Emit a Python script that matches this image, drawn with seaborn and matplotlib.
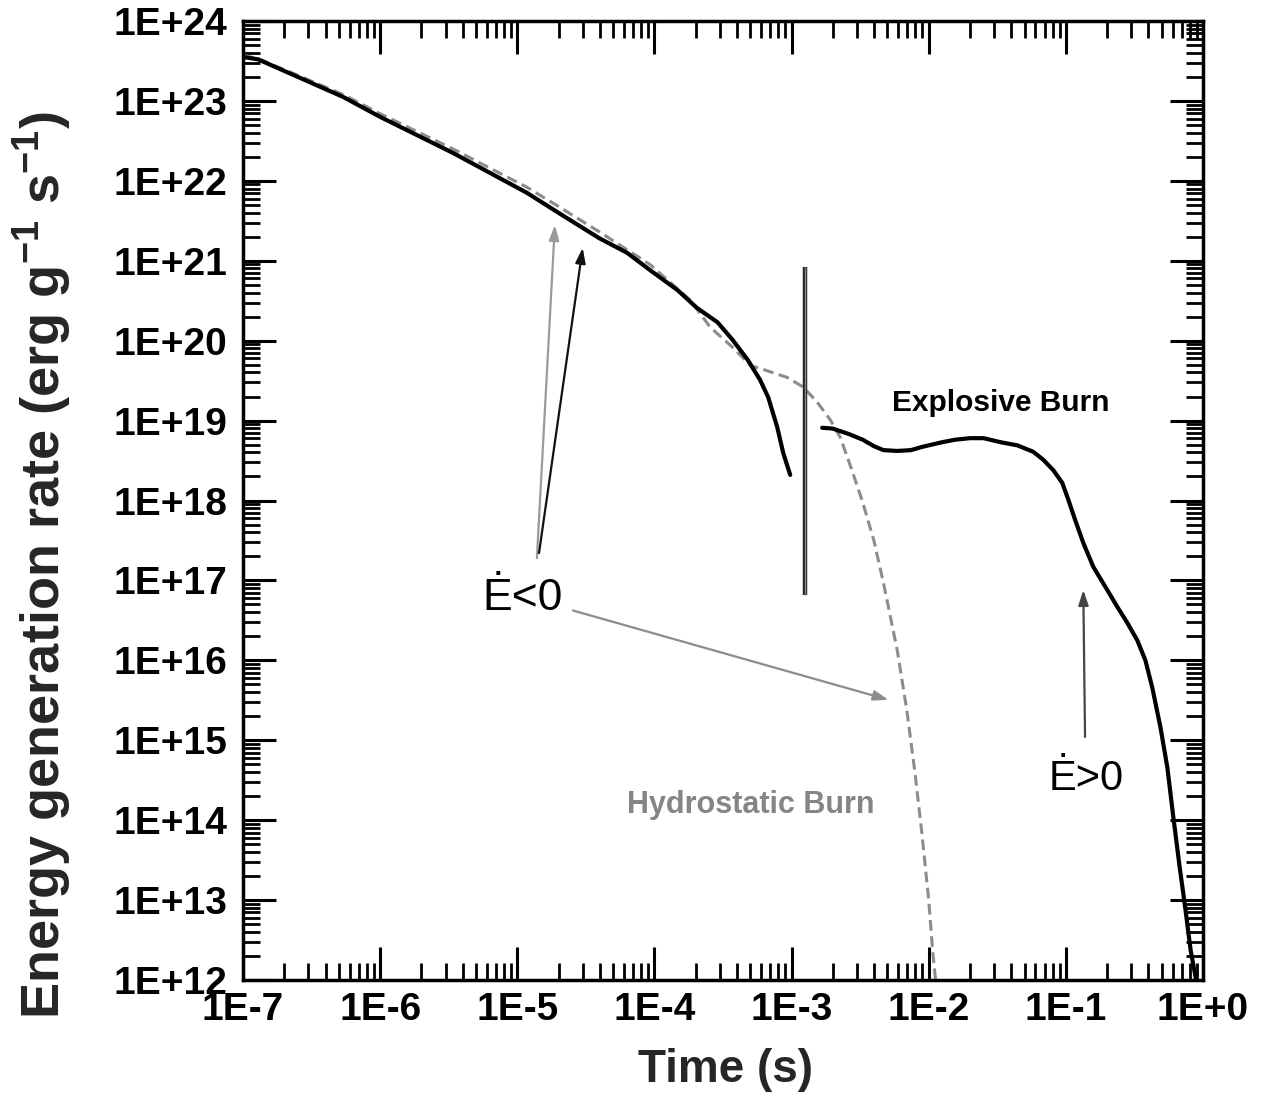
import numpy as np
import pandas as pd
import matplotlib
matplotlib.use("Agg")
import matplotlib.pyplot as plt
import matplotlib.ticker as mticker
import seaborn as sns

# values as log10 exponents
# explosive burn, part before the vertical bar: log10 t (s), log10 rate (erg/g/s)
expl1_logt = [-7.0, -6.89, -6.6, -6.27, -6.0, -5.47, -4.93, -4.70, -4.40, -4.20,
              -4.03, -3.83, -3.69, -3.54, -3.43, -3.32, -3.23, -3.17, -3.105,
              -3.06, -3.01]
expl1_logE = [23.55, 23.52, 23.30, 23.05, 22.80, 22.35, 21.85, 21.60, 21.28, 21.10,
              20.88, 20.63, 20.41, 20.23, 20.01, 19.76, 19.51, 19.29, 18.92,
              18.59, 18.32]

# explosive burn, part after the vertical bar
expl2_logt = [-2.777, -2.70, -2.58, -2.48, -2.40, -2.33, -2.23, -2.13, -2.05,
              -2.0, -1.90, -1.81, -1.70, -1.60, -1.478, -1.354, -1.238, -1.165,
              -1.092, -1.026, -0.982, -0.931, -0.873, -0.80, -0.698, -0.625,
              -0.552, -0.479, -0.42, -0.37, -0.31, -0.26, -0.22, -0.17, -0.13,
              -0.09, -0.05]
expl2_logE = [18.91, 18.90, 18.83, 18.76, 18.68, 18.63, 18.62, 18.63, 18.67,
              18.69, 18.73, 18.76, 18.78, 18.78, 18.73, 18.69, 18.61, 18.51,
              18.38, 18.22, 18.01, 17.75, 17.47, 17.17, 16.88, 16.67,
              16.47, 16.25, 16.00, 15.66, 15.16, 14.66, 14.09, 13.41, 12.91,
              12.37, 12.00]

# hydrostatic burn
hydro_logt = [-7.0, -6.89, -6.6, -6.27, -6.0, -5.47, -4.93, -4.70, -4.40, -4.03,
              -3.885, -3.74, -3.594, -3.426, -3.30, -3.207, -3.032, -2.915,
              -2.813, -2.718, -2.645, -2.56, -2.48, -2.40, -2.33, -2.23, -2.16,
              -2.10, -2.05, -2.00, -1.97, -1.95]
hydro_logE = [23.57, 23.53, 23.32, 23.08, 22.84, 22.40, 21.92, 21.68, 21.36, 20.95,
              20.73, 20.51, 20.17, 19.91, 19.69, 19.64, 19.54, 19.42,
              19.23, 19.01, 18.79, 18.38, 17.97, 17.50, 16.97, 16.13, 15.38,
              14.59, 13.84, 13.00, 12.34, 12.00]

# vertical bar separating the two explosive segments
bar_t = 1.26e-3
bar_lo, bar_hi = 6.6e16, 8.3e20

xticks = [1e-7, 1e-6, 1e-5, 1e-4, 1e-3, 1e-2, 1e-1, 1e0]
yticks = [10.0 ** k for k in range(12, 25)]

# annotation arrows: (tail), (head), colour
arrows = [
    ((1.39e-5, 1.9e17), (1.88e-5, 2.8e21), "#9a9a9a"),
    ((1.44e-5, 2.2e17), (3.0e-5, 1.45e21), "#111111"),
    ((2.55e-5, 4.2e16), (5.1e-3, 3.2e15), "#8c8c8c"),
    ((0.138, 1.1e15), (0.134, 7.6e16), "#444444"),
]

sns.set_style("ticks")
plt.rcParams["font.family"] = ["Liberation Sans", "DejaVu Sans"]
plt.rcParams["mathtext.fontset"] = "custom"
plt.rcParams["mathtext.rm"] = "Liberation Sans"
plt.rcParams["mathtext.bf"] = "Liberation Sans:bold"

fig = plt.figure(figsize=(12.63, 10.94), dpi=100)
ax = fig.add_axes([243 / 1263, 1 - 980 / 1094, 960 / 1263, 959 / 1094])
ax.set(xscale="log", yscale="log")

df_h = pd.DataFrame({"t": 10.0 ** np.array(hydro_logt), "E": 10.0 ** np.array(hydro_logE)})
sns.lineplot(data=df_h, x="t", y="E", ax=ax, color="#8c8c8c", lw=2.2,
             linestyle=(0, (3.5, 1.8)), estimator=None)
df1 = pd.DataFrame({"t": 10.0 ** np.array(expl1_logt), "E": 10.0 ** np.array(expl1_logE)})
sns.lineplot(data=df1, x="t", y="E", ax=ax, color="black", lw=3.0, estimator=None,
             solid_joinstyle="round")
df2 = pd.DataFrame({"t": 10.0 ** np.array(expl2_logt), "E": 10.0 ** np.array(expl2_logE)})
sns.lineplot(data=df2, x="t", y="E", ax=ax, color="black", lw=3.0, estimator=None,
             solid_joinstyle="round")

ax.vlines(bar_t, bar_lo, bar_hi, color="#222222", lw=3.2)
ax.vlines(bar_t, bar_lo, bar_hi, color="#888888", lw=1.0)

for (tail, head, col) in arrows:
    ax.annotate("", xy=head, xytext=tail,
                arrowprops=dict(arrowstyle="-|>,head_length=0.9,head_width=0.3",
                                color=col, lw=1.6, shrinkA=0, shrinkB=0))

ax.text(5.53e-6, 4.3e16, "\u0116<0", fontsize=32, color="black",
        ha="left", va="baseline")
ax.text(0.0745, 2.4e14, "\u0116>0", fontsize=30, color="black",
        ha="left", va="baseline")
ax.text(5.4e-3, 1.3e19, "Explosive Burn", fontsize=21.5, fontweight="bold",
        color="black", ha="left", va="baseline")
ax.text(6.3e-5, 1.23e14, "Hydrostatic Burn", fontsize=22, fontweight="bold",
        color="#858585", ha="left", va="baseline")

ax.set_xlim(1e-7, 1e0)
ax.set_ylim(1e12, 1e24)
ax.set_xticks(xticks)
ax.set_yticks(yticks)
ax.xaxis.set_minor_locator(mticker.LogLocator(base=10, subs=np.arange(2, 10), numticks=100))
ax.yaxis.set_minor_locator(mticker.LogLocator(base=10, subs=np.arange(2, 10), numticks=100))
fmt = mticker.FuncFormatter(lambda v, p: "1E{:+d}".format(int(round(np.log10(v)))))
ax.xaxis.set_major_formatter(fmt)
ax.yaxis.set_major_formatter(fmt)
ax.xaxis.set_minor_formatter(mticker.NullFormatter())
ax.yaxis.set_minor_formatter(mticker.NullFormatter())

ax.tick_params(which="both", direction="in", top=True, right=True, colors="black")
ax.tick_params(which="major", length=24, width=2.2, labelsize=28, pad=9)
ax.tick_params(which="minor", length=12.5, width=2.0)
ax.tick_params(axis="y", which="major", pad=11)
for lab in ax.get_xticklabels() + ax.get_yticklabels():
    lab.set_fontweight("bold")
for sp in ax.spines.values():
    sp.set_linewidth(2.5)
    sp.set_color("black")

ax.set_xlabel("Time (s)", fontsize=33, fontweight="bold", va="center")
ax.xaxis.set_label_coords(0.503, -0.094)
ax.set_ylabel(r"Energy generation rate (erg g$^{\mathbf{-1}}$ s$^{\mathbf{-1}}$)",
              fontsize=39, fontweight="bold", va="center")
ax.yaxis.set_label_coords(-0.209, 0.433)

fig.savefig("out.png", dpi=100)
